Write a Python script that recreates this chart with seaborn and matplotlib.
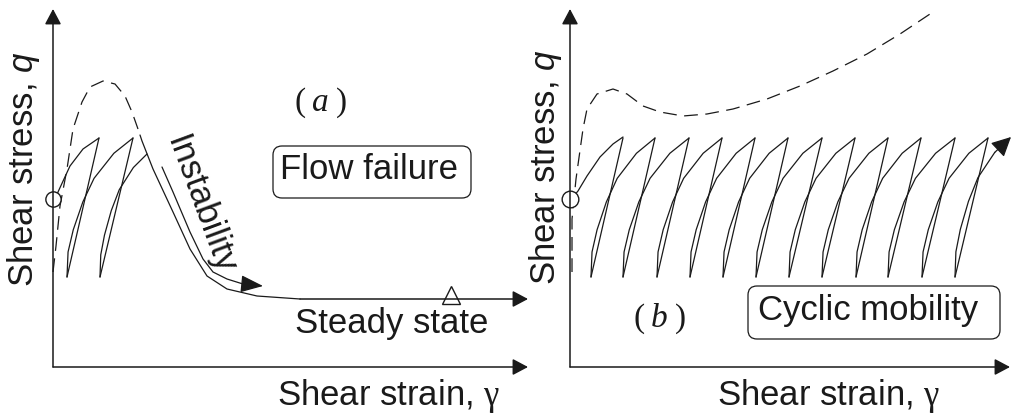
import numpy as np
import matplotlib
matplotlib.use("Agg")
import matplotlib.pyplot as plt
from matplotlib.patches import FancyBboxPatch
import seaborn as sns

# ---- data (strain, stress) in arbitrary schematic units, origin at the axes corner ----
# panel (a): flow failure
a_mono_x = [0, 3, 7, 14, 20, 29, 37, 50, 62, 72, 79, 85]
a_mono_y = [95, 121, 161, 198, 238, 265, 280, 286, 283, 271, 255, 238]
a_soft_x = [87, 89, 100, 120, 137, 154, 174, 204, 247, 475]
a_soft_y = [232, 226, 198, 155, 118, 91, 78, 71, 68, 68]
a_inst_x = [109, 120, 137, 150, 160, 174, 190, 210]
a_inst_y = [200, 175, 135, 108, 95, 88, 83, 81]
a_load_x = [3, 5, 17, 30, 46]
a_load_y = [170, 175, 201, 218, 229]
a_peak_x = [46, 80]
a_trough_x = [14, 47]
a_end = (94, 213)
a_steady = (398, 72)

# panel (b): cyclic mobility
b_mono_x = [2, 2, 6, 13, 17, 27, 43, 57, 73, 90, 113, 137, 163, 197, 230, 263, 297, 330, 363]
b_mono_y = [95, 148, 188, 238, 258, 273, 278, 273, 261, 255, 251, 253, 258, 268, 281, 296, 313, 333, 355]
b_load_x = [3, 8, 17, 30, 43, 53]
b_load_y = [170, 176, 191, 210, 223, 230]
b_peak_x = [53, 85, 119, 152, 185, 218, 252, 285, 318, 351, 385, 418]
b_trough_x = [21, 53, 87, 120, 153, 186, 219, 252, 286, 318, 352, 385]
b_end = (441, 230)

peak_y = 229
trough_y = 90
start_y = 168

# normalised shape of one reloading branch
reload_f = [0, 0.016, 0.095, 0.24, 0.41, 0.71, 1]
reload_h = [0, 0.18, 0.34, 0.54, 0.71, 0.89, 1]

sns.set_theme(style="white")
plt.rcParams['font.family'] = ['Liberation Sans', 'DejaVu Sans']
plt.rcParams['mathtext.fontset'] = 'custom'
plt.rcParams['mathtext.rm'] = 'Liberation Serif'
plt.rcParams['mathtext.it'] = 'Liberation Serif:italic'
plt.rcParams['mathtext.sf'] = 'Liberation Sans:italic'

ink = "#1a1a1a"
lw = 0.9
dash = (0, (11, 6))
fs = 25

fig = plt.figure(figsize=(10.11, 4.14), dpi=100)
ax1 = fig.add_axes([0, 0, 540 / 1011, 1])
ax2 = fig.add_axes([540 / 1011, 0, 471 / 1011, 1])
ax1.set_xlim(-53, 487)
ax2.set_xlim(-30, 441)
for ax in (ax1, ax2):
    ax.set_ylim(-46, 368)
    ax.set_axis_off()


def arrow(ax, tip, tail, hl=0.47, hw=0.25, lwidth=1.1):
    ax.annotate("", xy=tip, xytext=tail, annotation_clip=False,
                arrowprops=dict(arrowstyle=f"-|>,head_length={hl},head_width={hw}",
                                color=ink, lw=lwidth, mutation_scale=20,
                                shrinkA=0, shrinkB=0))


def line(ax, x, y, **kw):
    sns.lineplot(x=x, y=y, sort=False, estimator=None, ax=ax, color=ink,
                 lw=lw, legend=False, **kw)


def reload(ax, x0, x1, y1):
    xs = [x0 + f * (x1 - x0) for f in reload_f]
    ys = [trough_y + h * (y1 - trough_y) for h in reload_h]
    return xs, ys


def cycles(ax, peaks, troughs, end, arrow_end=False):
    targets = list(zip(peaks[1:], [peak_y] * (len(peaks) - 1))) + [end]
    for i, (p, t) in enumerate(zip(peaks, troughs)):
        line(ax, [p, t], [peak_y, trough_y])
        xs, ys = reload(ax, t, targets[i][0], targets[i][1])
        if arrow_end and i == len(peaks) - 1:
            line(ax, xs[:-1], ys[:-1])
            arrow(ax, (xs[-1], ys[-1]), (xs[-2], ys[-2]), hl=0.6, hw=0.3, lwidth=lw)
        else:
            line(ax, xs, ys)


# axes with arrows
for ax, xend in ((ax1, 475), (ax2, 440)):
    arrow(ax, (0, 358), (0, 0))
    arrow(ax, (xend, 0), (0, 0))

# ---- panel (a)
line(ax1, a_mono_x, a_mono_y, linestyle=dash)
line(ax1, a_soft_x[:-1], a_soft_y[:-1])
arrow(ax1, (a_soft_x[-1], a_soft_y[-1]), (a_soft_x[-2], a_soft_y[-2]))
line(ax1, a_inst_x[:-1], a_inst_y[:-1])
arrow(ax1, (a_inst_x[-1], a_inst_y[-1]), (a_inst_x[-2], a_inst_y[-2]), hl=0.7, hw=0.27, lwidth=lw)
line(ax1, a_load_x, a_load_y)
cycles(ax1, a_peak_x, a_trough_x, a_end)
ax1.plot([0], [start_y], "o", ms=11, mfc="white", mec=ink, mew=1, clip_on=False)
ax1.plot([a_steady[0]], [a_steady[1]], "^", ms=13, mfc="white", mec=ink, mew=1, clip_on=False)

ax1.text(-20, 81, r"Shear stress, $\mathsf{q}$", rotation=90, rotation_mode="anchor",
         ha="left", va="baseline", fontsize=fs, color=ink)
ax1.text(224, -37, r"Shear strain, $\mathrm{\gamma}$", ha="left", va="baseline",
         fontsize=fs, color=ink)
ax1.text(242, 35, "Steady state", ha="left", va="baseline", fontsize=fs, color=ink)
ax1.text(147, 163, "Instability", rotation=-69.7, rotation_mode="anchor",
         ha="center", va="center", fontsize=fs, color=ink)
ax1.text(267, 265, r"$(\;a\;)$", ha="center", va="center", fontsize=24, color=ink)
ax1.add_patch(FancyBboxPatch((220, 169), 198, 52, boxstyle="round,pad=0,rounding_size=9",
                             fc="white", ec=ink, lw=lw))
ax1.text(227, 189, "Flow failure", ha="left", va="baseline", fontsize=fs, color=ink)

# ---- panel (b)
line(ax2, b_mono_x, b_mono_y, linestyle=dash)
line(ax2, b_load_x, b_load_y)
cycles(ax2, b_peak_x, b_trough_x, b_end, arrow_end=True)
ax2.plot([0], [start_y], "o", ms=12, mfc="white", mec=ink, mew=1, clip_on=False)

ax2.text(-15, 83, r"Shear stress, $\mathsf{q}$", rotation=90, rotation_mode="anchor",
         ha="left", va="baseline", fontsize=fs, color=ink)
ax2.text(147, -37, r"Shear strain, $\mathrm{\gamma}$", ha="left", va="baseline",
         fontsize=fs, color=ink)
ax2.text(89, 49, r"$(\;b\;)$", ha="center", va="center", fontsize=24, color=ink)
ax2.add_patch(FancyBboxPatch((178, 28), 252, 53, boxstyle="round,pad=0,rounding_size=9",
                             fc="white", ec=ink, lw=lw))
ax2.text(188, 48, "Cyclic mobility", ha="left", va="baseline", fontsize=fs, color=ink)

fig.savefig("out.png", dpi=100)
